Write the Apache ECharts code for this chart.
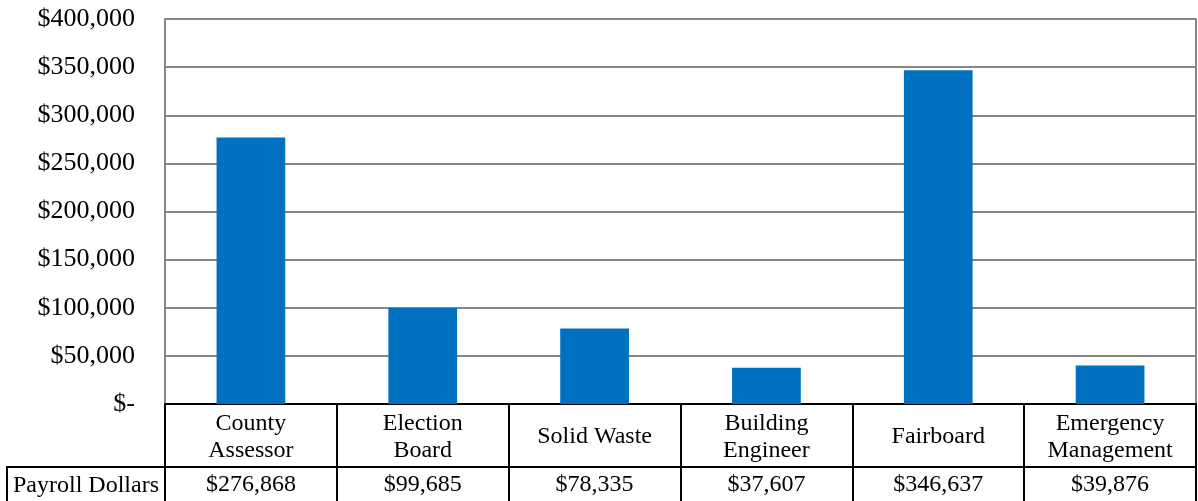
<!DOCTYPE html>
<html>
<head>
<meta charset="utf-8">
<script src="https://cdn.jsdelivr.net/npm/echarts@6/dist/echarts.min.js"></script>
<style>html,body{margin:0;padding:0;background:#fff}#c{width:1198px;height:501px}</style>
</head>
<body>
<div id="c"></div>
<script>
const categories = ['County\nAssessor', 'Election\nBoard', 'Solid Waste', 'Building\nEngineer', 'Fairboard', 'Emergency\nManagement'];
const payroll = [276868, 99685, 78335, 37607, 346637, 39876];
const yTicks = [0, 50000, 100000, 150000, 200000, 250000, 300000, 350000, 400000];
const seriesName = 'Payroll Dollars';

const FONT = '"Liberation Serif", "Times New Roman", serif';
const fmtMoney = v => v === 0 ? '$-' : '$' + v.toLocaleString('en-US');

const chart = echarts.init(document.getElementById('c'));
chart.setOption({
  animation: false,
  grid: { left: 165, right: 2, top: 19, bottom: 97, containLabel: false },
  xAxis: [
    {
      type: 'category', data: categories, position: 'bottom',
      axisLine: { show: true, onZero: false, lineStyle: { color: '#000', width: 2 } },
      axisTick: { show: true, length: 63, lineStyle: { color: '#000', width: 2 } },
      axisLabel: { color: '#000', fontFamily: FONT, fontSize: 24, lineHeight: 27, margin: 33, verticalAlign: 'middle', interval: 0 }
    },
    {
      type: 'category', data: payroll.map(fmtMoney), position: 'bottom', offset: 63,
      axisLine: { show: true, onZero: false, lineStyle: { color: '#000', width: 2 } },
      axisTick: { show: true, length: 36, lineStyle: { color: '#000', width: 2 } },
      axisLabel: { color: '#000', fontFamily: FONT, fontSize: 24, margin: 18, verticalAlign: 'middle', interval: 0 }
    }
  ],
  yAxis: [
    {
      type: 'value', min: yTicks[0], max: yTicks[yTicks.length - 1], interval: 50000,
      axisLine: { show: true, lineStyle: { color: '#868686', width: 2 } },
      axisTick: { show: false },
      splitLine: { show: true, lineStyle: { color: '#868686', width: 2 } },
      axisLabel: { color: '#000', fontFamily: FONT, fontSize: 26, margin: 30, formatter: v => fmtMoney(v) }
    },
    {
      type: 'value', position: 'right', min: yTicks[0], max: yTicks[yTicks.length - 1], interval: 50000,
      axisLine: { show: true, lineStyle: { color: '#868686', width: 2 } },
      axisTick: { show: false }, axisLabel: { show: false }, splitLine: { show: false }
    }
  ],
  series: [{
    name: seriesName, type: 'bar', data: payroll, xAxisIndex: 0, yAxisIndex: 0,
    barCategoryGap: '60%', itemStyle: { color: '#0070C0' }
  }],
  graphic: [
    { type: 'polyline', shape: { points: [[7, 503], [7, 467], [165, 467]] }, style: { stroke: '#000', lineWidth: 2, fill: null } },
    { type: 'text', x: 86, y: 486, style: { text: seriesName, font: '24px ' + FONT, fill: '#000', align: 'center', verticalAlign: 'middle' } }
  ]
});
</script>
</body>
</html>
